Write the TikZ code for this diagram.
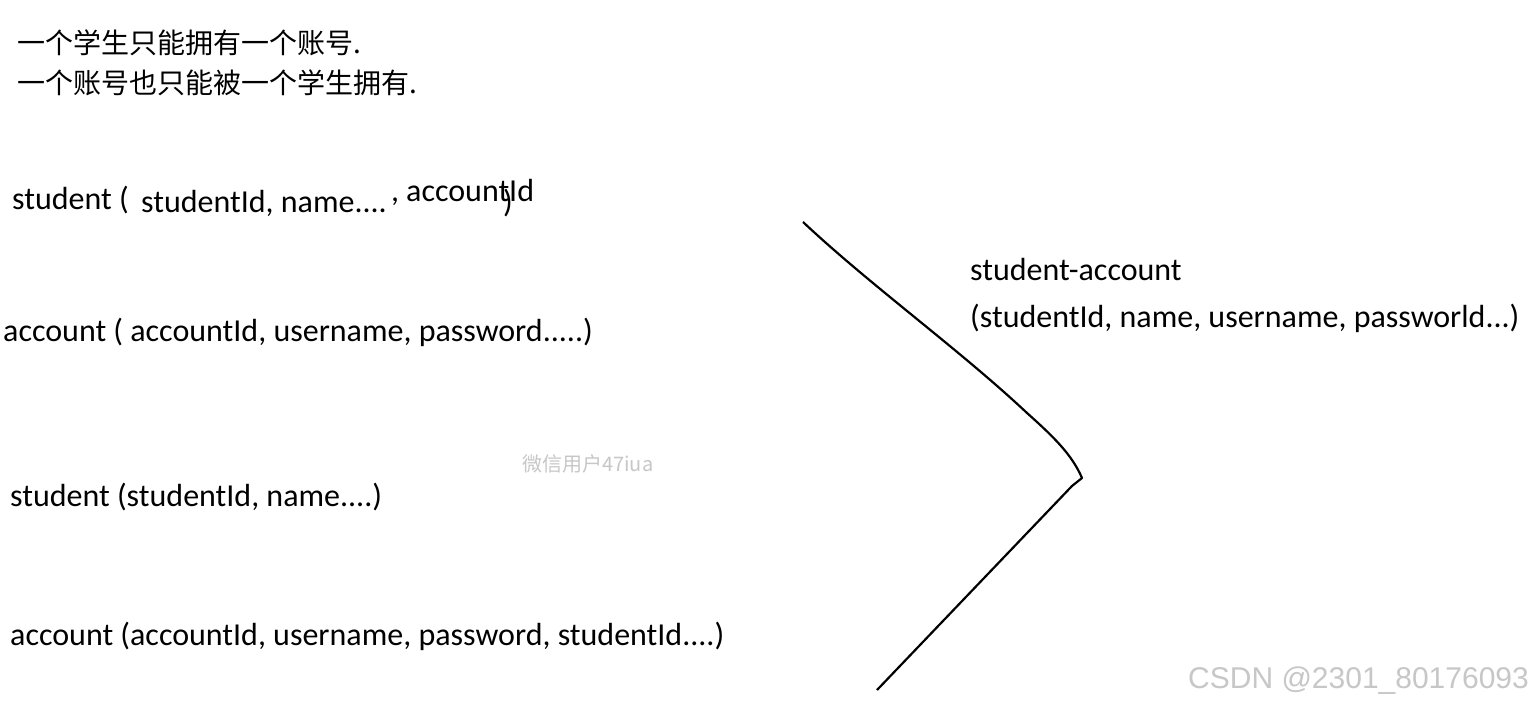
\documentclass[tikz,border=0pt]{standalone}
\usepackage{fontspec}
\setmainfont{Carlito}
\newfontfamily\cjk{Noto Sans CJK SC}
\newfontfamily\wmfont{Liberation Sans}
\begin{document}
\begin{tikzpicture}[x=1pt,y=-1pt,
  txt/.style={anchor=base west,inner sep=0pt,font=\fontsize{32}{36}\selectfont,text=black},
  cn/.style={anchor=base west,inner sep=0pt,font=\cjk\fontsize{28}{32}\selectfont,text=black},
  wm/.style={anchor=base west,inner sep=0pt,text=black!22}]
\useasboundingbox[fill=white] (0,0) rectangle (1533,703);
% Chinese header
\node[cn] (c1) at (17,54) {一个学生只能拥有一个账号.};
\node[cn] (c2) at (17,94) {一个账号也只能被一个学生拥有.};
% first schema
\node[txt] (s1a) at (12,210) {student (};
\node[txt] (s1b) at (141,213) {studentId, name....};
\node[txt] (s1c) at (391,202) {,};
\node[txt] (s1d) at (406,202) {accountId};
\node[txt] (s1e) at (503,213) {)};
\node[txt] (a1) at (3,341) {account ( accountId, username, password.....)};
% merged
\node[txt] (m1) at (970,280) {student-account};
\node[txt] (m2) at (970,327) {(studentId, name, username, passworld...)};
% second schema
\node[txt] (s2) at (10,506) {student (studentId, name....)};
\node[txt] (a2) at (10,645) {account (accountId, username, password, studentId....)};
% watermarks
\node[wm,font=\cjk\fontsize{20}{24}\selectfont] (w1) at (522,471) {微信用户47iua};
\node[wm,font=\wmfont\fontsize{30}{34}\selectfont] (w2) at (1188,688) {CSDN @2301\_80176093};
% freehand bracket
\coordinate (p0) at (803,222);
\coordinate (p2) at (1027,413);
\coordinate (p3) at (1082,478);
\coordinate (p4) at (877,690);
\draw[line width=2.2pt,line join=round] (p0) .. controls (870,285) and (960,350) .. (p2)
  .. controls (1055,438) and (1072,455) .. (p3) -- (1072,486) -- (p4);
\end{tikzpicture}
\end{document}
